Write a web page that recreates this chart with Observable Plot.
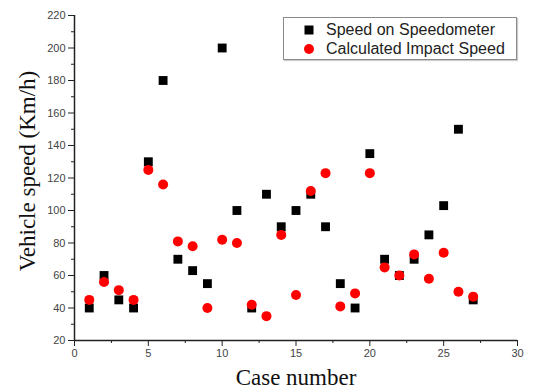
<!DOCTYPE html>
<html>
<head>
<meta charset="utf-8">
<script src="https://cdn.jsdelivr.net/npm/d3@7"></script>
<script src="https://cdn.jsdelivr.net/npm/@observablehq/plot@0.6"></script>
<style>
  html, body { margin: 0; padding: 0; background: #fff; }
  #wrap { position: relative; width: 540px; height: 390px; }
  #legend { position: absolute; left: 283px; top: 17px; width: 232px; height: 41px;
    border: 1px solid #8a8a8a; box-shadow: 1px 1px 1px #ccc; background: #fff;
    font-family: "Liberation Sans", Arial, sans-serif; font-size: 16px; color: #222; }
  .row { position: absolute; left: 0; height: 20px; display: flex; align-items: center; }
  .row svg { margin-left: 20px; margin-right: 12px; }
</style>
</head>
<body>
<div id="wrap">
  <div id="chart"></div>
  <div id="legend"></div>
</div>
<script>
const cases = [1,2,3,4,5,6,7,8,9,10,11,12,13,14,15,16,17,18,19,20,21,22,23,24,25,26,27];
const speedometer = [40,60,45,40,130,180,70,63,55,200,100,40,110,90,100,110,90,55,40,135,70,60,70,85,103,150,45];
const impact = [45,56,51,45,125,116,81,78,40,82,80,42,35,85,48,112,123,41,49,123,65,60,73,58,74,50,47];
const seriesNames = ["Speed on Speedometer", "Calculated Impact Speed"];
const xMajor = [0,5,10,15,20,25,30];
const xMinor = [2.5,7.5,12.5,17.5,22.5,27.5];
const yMajor = [20,40,60,80,100,120,140,160,180,200,220];
const yMinor = [30,50,70,90,110,130,150,170,190,210];
const xTitle = "Case number";
const yTitle = "Vehicle speed (Km/h)";

const dataA = cases.map((c, i) => ({c, v: speedometer[i]}));
const dataB = cases.map((c, i) => ({c, v: impact[i]}));

const sans = "'Liberation Sans', Arial, sans-serif";
const serif = "'Liberation Serif', 'Times New Roman', serif";

const chart = Plot.plot({
  width: 540,
  height: 390,
  marginLeft: 74,
  marginRight: 23,
  marginTop: 15,
  marginBottom: 50,
  style: {fontFamily: sans, fontSize: "11px", color: "#333", background: "#fff"},
  x: {domain: [0, 30]},
  y: {domain: [20, 220]},
  marks: [
    Plot.axisX({ticks: xMinor, tickSize: 3, tickFormat: () => "", label: null, stroke: "#222"}),
    Plot.axisX({ticks: xMajor, tickSize: 6, tickPadding: 3, label: null, stroke: "#222", fill: "#444", fontSize: 11}),
    Plot.axisY({ticks: yMinor, tickSize: 3, tickFormat: () => "", label: null, stroke: "#222"}),
    Plot.axisY({ticks: yMajor, tickSize: 6, tickPadding: 3, label: null, stroke: "#222", fill: "#444", fontSize: 11}),
    Plot.ruleX([0], {stroke: "#222", strokeWidth: 1.5}),
    Plot.ruleY([20], {stroke: "#222", strokeWidth: 1.5}),
    Plot.dot(dataA, {x: "c", y: "v", symbol: "square", r: 5, fill: "#000", stroke: "none"}),
    Plot.dot(dataB, {x: "c", y: "v", symbol: "circle", r: 5, fill: "#ff0000", stroke: "none"}),
    Plot.text([xTitle], {frameAnchor: "bottom", dy: 37, text: d => d, fontFamily: serif, fontSize: 23, fill: "#111", lineAnchor: "middle", textAnchor: "middle"}),
    Plot.text([yTitle], {frameAnchor: "left", dx: -47, dy: -7, rotate: -90, text: d => d, fontFamily: serif, fontSize: 23, fill: "#111", lineAnchor: "middle", textAnchor: "middle"})
  ]
});
document.getElementById("chart").appendChild(chart);

const legend = document.getElementById("legend");
const markers = [
  '<svg width="10" height="10"><rect x="0.5" y="0.5" width="9" height="9" fill="#000"/></svg>',
  '<svg width="10" height="10"><circle cx="5" cy="5" r="5" fill="#ff0000"/></svg>'
];
seriesNames.forEach((name, i) => {
  const row = document.createElement("div");
  row.className = "row";
  row.style.top = (2 + i * 19) + "px";
  row.innerHTML = markers[i] + "<span>" + name + "</span>";
  legend.appendChild(row);
});
</script>
</body>
</html>
